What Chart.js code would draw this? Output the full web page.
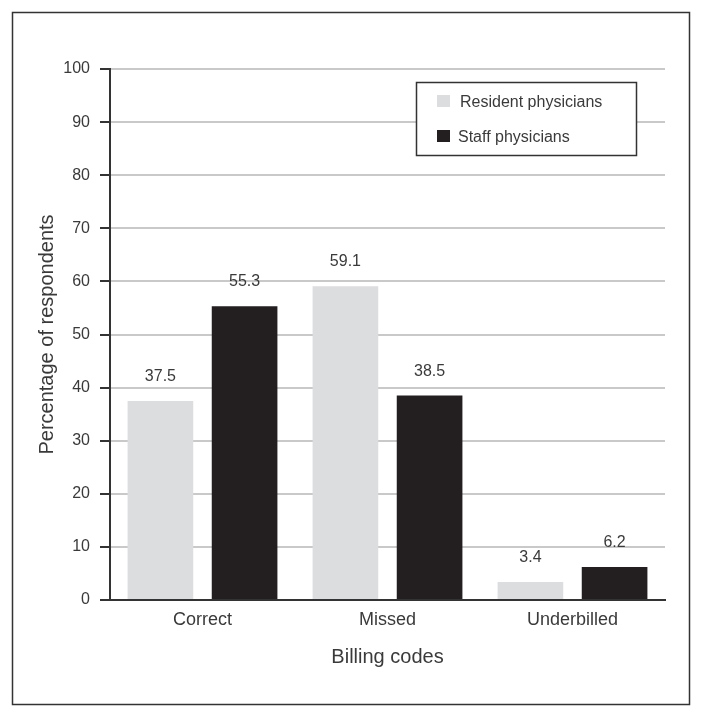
<!DOCTYPE html>
<html>
<head>
<meta charset="utf-8">
<style>
  html, body { margin: 0; padding: 0; background: #fff; }
  #wrap { position: relative; width: 703px; height: 717px; }
</style>
<script src="https://cdn.jsdelivr.net/npm/chart.js@4/dist/chart.umd.min.js"></script>
</head>
<body>
<div id="wrap"><canvas id="billingChart" width="703" height="717"></canvas></div>
<script>
// ========== DATA ==========
const categories = ['Correct', 'Missed', 'Underbilled'];
const residentValues = [37.5, 59.1, 3.4];
const staffValues = [55.3, 38.5, 6.2];
const seriesLabels = ['Resident physicians', 'Staff physicians'];

const FONT = "'Liberation Sans', Arial, sans-serif";
const TEXT = '#3a3a3a';

/**
 * Marco exterior de la figura
 */
const framePlugin = {
    id: 'frame',
    beforeDraw(chart) {
        const ctx = chart.ctx;
        ctx.save();
        ctx.fillStyle = '#fff';
        ctx.fillRect(0, 0, chart.width, chart.height);
        ctx.strokeStyle = '#333';
        ctx.lineWidth = 1.5;
        ctx.strokeRect(12.5, 12.5, 677, 692);
        ctx.restore();
    }
};

/**
 * Etiquetas de valor sobre las barras
 */
const valueLabels = {
    id: 'valueLabels',
    afterDatasetsDraw(chart) {
        const ctx = chart.ctx;
        ctx.save();
        ctx.font = '16px ' + FONT;
        ctx.fillStyle = TEXT;
        ctx.textAlign = 'center';
        ctx.textBaseline = 'alphabetic';
        chart.data.datasets.forEach((ds, i) => {
            chart.getDatasetMeta(i).data.forEach((bar, j) => {
                ctx.fillText(ds.data[j].toFixed(1), bar.x, bar.y - 20);
            });
        });
        ctx.restore();
    }
};

/**
 * Leyenda dentro del área del gráfico, con recuadro
 */
const boxLegend = {
    id: 'boxLegend',
    afterDraw(chart) {
        const ctx = chart.ctx;
        const x = 416, y = 82, w = 220, h = 73;
        ctx.save();
        ctx.fillStyle = '#fff';
        ctx.fillRect(x, y, w, h);
        ctx.strokeStyle = '#333';
        ctx.lineWidth = 1.5;
        ctx.strokeRect(x + 0.5, y + 0.5, w, h);
        ctx.font = '16px ' + FONT;
        ctx.textBaseline = 'middle';
        chart.data.datasets.forEach((ds, i) => {
            const cy = y + 19 + i * 35;
            ctx.fillStyle = ds.backgroundColor;
            ctx.fillRect(x + 21, cy - 6, 13, 12);
            ctx.fillStyle = TEXT;
            ctx.fillText(ds.label, x + 44 - i * 2, cy + 2);
        });
        ctx.restore();
    }
};

new Chart(document.getElementById('billingChart'), {
    type: 'bar',
    data: {
        labels: categories,
        datasets: [
            {
                label: seriesLabels[0],
                data: residentValues,
                backgroundColor: '#dcdddf'
            },
            {
                label: seriesLabels[1],
                data: staffValues,
                backgroundColor: '#231f20'
            }
        ]
    },
    options: {
        responsive: false,
        animation: false,
        categoryPercentage: 0.91,
        barPercentage: 0.78,
        layout: {
            padding: { left: 0, top: 69, right: 38, bottom: 0 }
        },
        plugins: {
            legend: { display: false },
            tooltip: { enabled: false }
        },
        scales: {
            x: {
                grid: { display: false, drawTicks: false },
                border: { color: '#333', width: 2 },
                ticks: {
                    color: TEXT,
                    font: { family: FONT, size: 18 },
                    padding: 9
                },
                title: {
                    display: true,
                    text: 'Billing codes',
                    color: TEXT,
                    font: { family: FONT, size: 20 },
                    padding: { top: 0, bottom: 48 }
                },
                afterFit: s => { s.height = 117; }
            },
            y: {
                min: 0,
                max: 100,
                ticks: {
                    stepSize: 10,
                    color: TEXT,
                    font: { family: FONT, size: 16 },
                    padding: 10
                },
                grid: {
                    color: '#c9c9c9',
                    lineWidth: 2,
                    tickColor: '#333',
                    tickLength: 10,
                    tickWidth: 2
                },
                border: { color: '#333', width: 2 },
                title: {
                    display: true,
                    text: 'Percentage of respondents',
                    color: TEXT,
                    font: { family: FONT, size: 20 },
                    padding: { top: 35, bottom: 0 }
                },
                afterFit: s => { s.width = 110; }
            }
        }
    },
    plugins: [framePlugin, valueLabels, boxLegend]
});
</script>
</body>
</html>
